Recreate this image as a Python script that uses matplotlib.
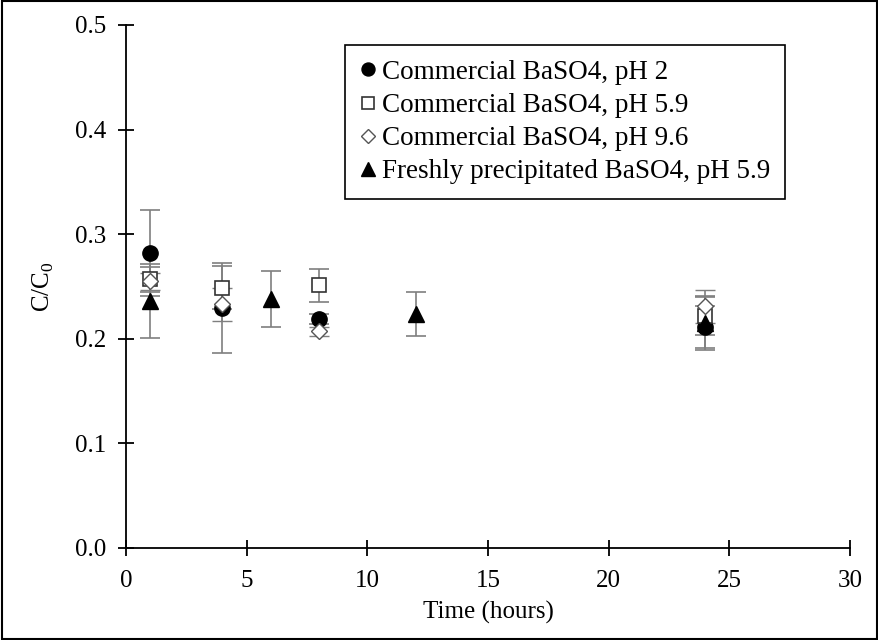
import matplotlib
matplotlib.use("Agg")
import matplotlib.pyplot as plt
from matplotlib.patches import Rectangle

plt.rcParams['font.family'] = ['Liberation Serif', 'DejaVu Serif']
plt.rcParams['mathtext.fontset'] = 'custom'
plt.rcParams['mathtext.rm'] = 'Liberation Serif'

labels = ["Commercial BaSO4, pH 2", "Commercial BaSO4, pH 5.9",
          "Commercial BaSO4, pH 9.6", "Freshly precipitated BaSO4, pH 5.9"]

t_ph2 = [1, 4, 8, 24]
y_ph2 = [0.282, 0.229, 0.219, 0.211]
e_ph2 = [0.041, 0.043, 0.005, 0.020]

t_ph59 = [1, 4, 8, 24]
y_ph59 = [0.257, 0.249, 0.251, 0.222]
e_ph59 = [0.012, 0.021, 0.016, 0.018]

t_ph96 = [1, 4, 8, 24]
y_ph96 = [0.255, 0.233, 0.207, 0.231]
e_ph96 = [0.008, 0.016, 0.004, 0.016]

t_fresh = [1, 6, 12, 24]
y_fresh = [0.236, 0.238, 0.224, 0.215]
e_fresh = [0.035, 0.027, 0.021, 0.026]

xticks = [0, 5, 10, 15, 20, 25, 30]
yticks = [0.0, 0.1, 0.2, 0.3, 0.4, 0.5]

fig = plt.figure(figsize=(8.79, 6.4), dpi=100)
ax = fig.add_axes([0.1433, 0.1438, 0.8237, 0.8172])

ecol = '#7f7f7f'
common = dict(linestyle='none', ecolor=ecol, elinewidth=1.2, capsize=7, capthick=1.2)
ax.errorbar(t_ph2, y_ph2, yerr=e_ph2, marker='o', ms=11, mfc='black', mec='black', label=labels[0], **common)
ax.errorbar(t_ph59, y_ph59, yerr=e_ph59, marker='s', ms=10, mfc='white', mec='#333333', mew=1.2, label=labels[1], **common)
ax.errorbar(t_ph96, y_ph96, yerr=e_ph96, marker='D', ms=8, mfc='white', mec='#555555', mew=1.0, label=labels[2], **common)
ax.errorbar(t_fresh, y_fresh, yerr=e_fresh, marker='^', ms=12, mfc='black', mec='black', label=labels[3], **common)

ax.set_xlim(0, 30)
ax.set_ylim(0, 0.5)
ax.set_xticks(xticks)
ax.set_yticks(yticks)
ax.set_xticklabels([str(v) for v in xticks])
ax.set_yticklabels([f"{v:.1f}" for v in yticks])
ax.spines['top'].set_visible(False)
ax.spines['right'].set_visible(False)
for s in ['left', 'bottom']:
    ax.spines[s].set_linewidth(1.3)
ax.tick_params(direction='inout', length=12, width=1.3, labelsize=18)
ax.tick_params(axis='x', pad=10)
ax.tick_params(axis='y', pad=8)
ax.set_xlabel("Time (hours)", fontsize=18, labelpad=6)
ax.set_ylabel(r"C/C$_\mathregular{0}$", fontsize=18, labelpad=14)

handles, labs = ax.get_legend_handles_labels()
handles = [h[0] for h in handles]
leg = ax.legend(handles, labs, loc='upper left', bbox_to_anchor=(345/879, 1 - 45/640),
                bbox_transform=fig.transFigure, fontsize=19.5, frameon=True, fancybox=False,
                edgecolor='black', framealpha=1, handlelength=0.6, handletextpad=0.2,
                borderpad=0.55, labelspacing=0.3, markerscale=0.85, borderaxespad=0)
leg.get_frame().set_linewidth(1.2)

fig.patches.append(Rectangle((0.002, 0.002), 0.996, 0.996, transform=fig.transFigure,
                             fill=False, edgecolor='black', linewidth=1.5))

fig.savefig("out.png", dpi=100)
